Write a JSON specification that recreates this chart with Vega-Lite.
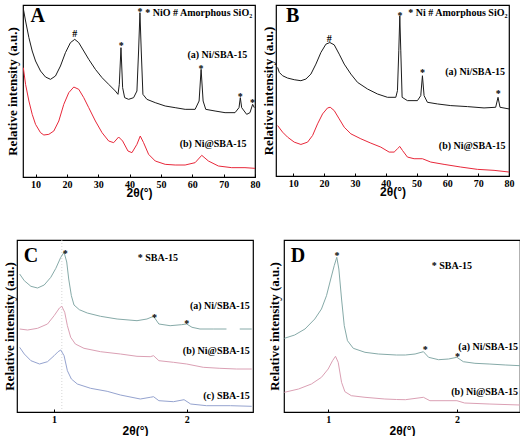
{
  "$schema": "https://vega.github.io/schema/vega-lite/v6.json",
  "padding": {"left": 2, "top": 4, "right": 0, "bottom": 0},
  "config": {
    "view": {"stroke": "#000", "strokeWidth": 1.2},
    "axis": {"domain": false, "grid": false, "tickColor": "#000", "labelFont": "Liberation Serif", "labelFontWeight": "bold", "labelFontSize": 10, "labelColor": "#000", "titleFont": "Liberation Sans", "titleFontWeight": "bold", "titleFontSize": 12, "titleColor": "#000", "labelFlush": false},
    "axisY": {"labels": false, "ticks": false, "titleFont": "Liberation Serif", "titleFontSize": 13},
    "axisX": {"tickSize": -3, "labelPadding": 5, "titlePadding": 0}
  },
  "resolve": {"scale": {"color": "independent"}},
  "spacing": 40,
  "datasets": {
    "A": [
      {"t":6.1,"i":505,"s":"a"},{"t":6.82,"i":468,"s":"a"},{"t":7.88,"i":418,"s":"a"},{"t":8.94,"i":378,"s":"a"},{"t":10,"i":348,"s":"a"},{"t":11.59,"i":318,"s":"a"},{"t":13.18,"i":300,"s":"a"},{"t":14.77,"i":293,"s":"a"},{"t":16.36,"i":303,"s":"a"},{"t":17.95,"i":333,"s":"a"},{"t":19.54,"i":373,"s":"a"},{"t":21.13,"i":403,"s":"a"},{"t":22.51,"i":413,"s":"a"},{"t":23.79,"i":403,"s":"a"},{"t":25.38,"i":378,"s":"a"},{"t":26.97,"i":353,"s":"a"},{"t":29.09,"i":323,"s":"a"},{"t":31.21,"i":298,"s":"a"},{"t":33.33,"i":278,"s":"a"},{"t":35.45,"i":258,"s":"a"},{"t":36.3,"i":248,"s":"a"},{"t":36.72,"i":278,"s":"a"},{"t":37.25,"i":388,"s":"a"},{"t":37.78,"i":268,"s":"a"},{"t":38.42,"i":238,"s":"a"},{"t":39.69,"i":233,"s":"a"},{"t":41.28,"i":238,"s":"a"},{"t":42.34,"i":258,"s":"a"},{"t":42.87,"i":378,"s":"a"},{"t":43.3,"i":493,"s":"a"},{"t":43.72,"i":378,"s":"a"},{"t":44.25,"i":248,"s":"a"},{"t":45.52,"i":233,"s":"a"},{"t":48.18,"i":223,"s":"a"},{"t":51.36,"i":213,"s":"a"},{"t":54.54,"i":208,"s":"a"},{"t":57.72,"i":203,"s":"a"},{"t":60.9,"i":203,"s":"a"},{"t":62.17,"i":228,"s":"a"},{"t":62.81,"i":323,"s":"a"},{"t":63.45,"i":228,"s":"a"},{"t":64.29,"i":203,"s":"a"},{"t":67.26,"i":198,"s":"a"},{"t":70.45,"i":193,"s":"a"},{"t":73.63,"i":193,"s":"a"},{"t":74.9,"i":208,"s":"a"},{"t":75.32,"i":238,"s":"a"},{"t":75.75,"i":208,"s":"a"},{"t":77.34,"i":188,"s":"a"},{"t":78.4,"i":193,"s":"a"},{"t":79.25,"i":218,"s":"a"},{"t":79.78,"i":208,"s":"a"},
      {"t":6.1,"i":328,"s":"b"},{"t":6.82,"i":278,"s":"b"},{"t":7.88,"i":228,"s":"b"},{"t":8.94,"i":188,"s":"b"},{"t":10,"i":158,"s":"b"},{"t":11.59,"i":133,"s":"b"},{"t":12.65,"i":126,"s":"b"},{"t":14.24,"i":128,"s":"b"},{"t":15.83,"i":138,"s":"b"},{"t":17.42,"i":168,"s":"b"},{"t":19.01,"i":218,"s":"b"},{"t":20.6,"i":253,"s":"b"},{"t":22.2,"i":270,"s":"b"},{"t":23.79,"i":263,"s":"b"},{"t":25.38,"i":238,"s":"b"},{"t":26.97,"i":208,"s":"b"},{"t":29.09,"i":168,"s":"b"},{"t":31.21,"i":133,"s":"b"},{"t":33.33,"i":108,"s":"b"},{"t":34.92,"i":103,"s":"b"},{"t":36.51,"i":120,"s":"b"},{"t":37.78,"i":108,"s":"b"},{"t":39.48,"i":78,"s":"b"},{"t":40.75,"i":73,"s":"b"},{"t":42.34,"i":98,"s":"b"},{"t":43.4,"i":123,"s":"b"},{"t":44.46,"i":103,"s":"b"},{"t":46.06,"i":68,"s":"b"},{"t":48.18,"i":48,"s":"b"},{"t":51.36,"i":38,"s":"b"},{"t":54.54,"i":36,"s":"b"},{"t":57.72,"i":36,"s":"b"},{"t":60.9,"i":43,"s":"b"},{"t":63.02,"i":65,"s":"b"},{"t":65.14,"i":48,"s":"b"},{"t":68.32,"i":33,"s":"b"},{"t":72.57,"i":28,"s":"b"},{"t":76.81,"i":28,"s":"b"},{"t":80,"i":26,"s":"b"}
    ],
    "B": [
      {"t":4.92,"i":327,"s":"a"},{"t":5.46,"i":312,"s":"a"},{"t":6.54,"i":302,"s":"a"},{"t":8.16,"i":295,"s":"a"},{"t":10.32,"i":290,"s":"a"},{"t":12.48,"i":287,"s":"a"},{"t":14.1,"i":292,"s":"a"},{"t":15.73,"i":307,"s":"a"},{"t":17.35,"i":337,"s":"a"},{"t":18.97,"i":372,"s":"a"},{"t":20.59,"i":397,"s":"a"},{"t":21.88,"i":402,"s":"a"},{"t":23.29,"i":395,"s":"a"},{"t":24.91,"i":367,"s":"a"},{"t":26.53,"i":337,"s":"a"},{"t":28.69,"i":307,"s":"a"},{"t":30.85,"i":282,"s":"a"},{"t":34.09,"i":262,"s":"a"},{"t":37.33,"i":247,"s":"a"},{"t":40.57,"i":237,"s":"a"},{"t":43.27,"i":237,"s":"a"},{"t":43.81,"i":257,"s":"a"},{"t":44.24,"i":377,"s":"a"},{"t":44.57,"i":482,"s":"a"},{"t":44.89,"i":377,"s":"a"},{"t":45.32,"i":237,"s":"a"},{"t":47.05,"i":227,"s":"a"},{"t":50.29,"i":227,"s":"a"},{"t":51.37,"i":242,"s":"a"},{"t":51.91,"i":302,"s":"a"},{"t":52.45,"i":242,"s":"a"},{"t":53.53,"i":222,"s":"a"},{"t":56.78,"i":217,"s":"a"},{"t":61.1,"i":212,"s":"a"},{"t":66.5,"i":209,"s":"a"},{"t":71.9,"i":205,"s":"a"},{"t":75.68,"i":207,"s":"a"},{"t":76.44,"i":237,"s":"a"},{"t":77.08,"i":207,"s":"a"},{"t":80,"i":202,"s":"a"},
      {"t":4.92,"i":152,"s":"b"},{"t":6.54,"i":132,"s":"b"},{"t":8.16,"i":117,"s":"b"},{"t":10.32,"i":102,"s":"b"},{"t":12.48,"i":95,"s":"b"},{"t":14.65,"i":102,"s":"b"},{"t":16.27,"i":122,"s":"b"},{"t":17.89,"i":157,"s":"b"},{"t":19.51,"i":187,"s":"b"},{"t":21.13,"i":205,"s":"b"},{"t":21.99,"i":207,"s":"b"},{"t":23.29,"i":197,"s":"b"},{"t":24.91,"i":172,"s":"b"},{"t":26.53,"i":147,"s":"b"},{"t":28.69,"i":127,"s":"b"},{"t":31.93,"i":112,"s":"b"},{"t":35.17,"i":99,"s":"b"},{"t":38.41,"i":87,"s":"b"},{"t":41.11,"i":72,"s":"b"},{"t":42.73,"i":72,"s":"b"},{"t":43.81,"i":82,"s":"b"},{"t":44.57,"i":89,"s":"b"},{"t":45.43,"i":77,"s":"b"},{"t":47.05,"i":57,"s":"b"},{"t":49.21,"i":52,"s":"b"},{"t":51.91,"i":52,"s":"b"},{"t":54.61,"i":42,"s":"b"},{"t":58.94,"i":35,"s":"b"},{"t":64.34,"i":27,"s":"b"},{"t":69.74,"i":20,"s":"b"},{"t":75.14,"i":17,"s":"b"},{"t":80,"i":12,"s":"b"}
    ],
    "C": [
      {"t":0.74,"i":138,"s":"a","g":1},{"t":0.775,"i":131.3,"s":"a","g":1},{"t":0.825,"i":125.7,"s":"a","g":1},{"t":0.875,"i":124,"s":"a","g":1},{"t":0.925,"i":127,"s":"a","g":1},{"t":0.975,"i":134.7,"s":"a","g":1},{"t":1.013,"i":143.7,"s":"a","g":1},{"t":1.05,"i":154.7,"s":"a","g":1},{"t":1.075,"i":159.7,"s":"a","g":1},{"t":1.095,"i":150,"s":"a","g":1},{"t":1.11,"i":133,"s":"a","g":1},{"t":1.13,"i":116.3,"s":"a","g":1},{"t":1.15,"i":107,"s":"a","g":1},{"t":1.19,"i":102.3,"s":"a","g":1},{"t":1.25,"i":99,"s":"a","g":1},{"t":1.35,"i":95.7,"s":"a","g":1},{"t":1.475,"i":93,"s":"a","g":1},{"t":1.625,"i":91.3,"s":"a","g":1},{"t":1.7,"i":93,"s":"a","g":1},{"t":1.75,"i":95.7,"s":"a","g":1},{"t":1.79,"i":88,"s":"a","g":1},{"t":1.875,"i":86.3,"s":"a","g":1},{"t":1.96,"i":87.3,"s":"a","g":1},{"t":2.0,"i":88,"s":"a","g":1},{"t":2.04,"i":84.7,"s":"a","g":1},{"t":2.1,"i":83,"s":"a","g":1},{"t":2.2,"i":83,"s":"a","g":1},{"t":2.3,"i":83,"s":"a","g":1},
      {"t":2.4,"i":83,"s":"a","g":2},{"t":2.49,"i":83,"s":"a","g":2},
      {"t":0.74,"i":83,"s":"b","g":1},{"t":0.8,"i":82,"s":"b","g":1},{"t":0.875,"i":83.7,"s":"b","g":1},{"t":0.95,"i":88,"s":"b","g":1},{"t":1.0,"i":96.3,"s":"b","g":1},{"t":1.04,"i":104,"s":"b","g":1},{"t":1.058,"i":105.7,"s":"b","g":1},{"t":1.08,"i":99.7,"s":"b","g":1},{"t":1.1,"i":86.3,"s":"b","g":1},{"t":1.125,"i":74.7,"s":"b","g":1},{"t":1.16,"i":68,"s":"b","g":1},{"t":1.225,"i":63.7,"s":"b","g":1},{"t":1.35,"i":60.3,"s":"b","g":1},{"t":1.5,"i":58,"s":"b","g":1},{"t":1.625,"i":55.7,"s":"b","g":1},{"t":1.725,"i":55.3,"s":"b","g":1},{"t":1.75,"i":56.3,"s":"b","g":1},{"t":1.79,"i":51.3,"s":"b","g":1},{"t":1.9,"i":49.7,"s":"b","g":1},{"t":2.0,"i":48,"s":"b","g":1},{"t":2.125,"i":44.7,"s":"b","g":1},{"t":2.25,"i":43.7,"s":"b","g":1},{"t":2.375,"i":43,"s":"b","g":1},{"t":2.49,"i":43,"s":"b","g":1},
      {"t":0.74,"i":64.7,"s":"c","g":1},{"t":0.775,"i":58,"s":"c","g":1},{"t":0.825,"i":51.3,"s":"c","g":1},{"t":0.89,"i":48,"s":"c","g":1},{"t":0.95,"i":50.3,"s":"c","g":1},{"t":1.0,"i":56.3,"s":"c","g":1},{"t":1.03,"i":60.3,"s":"c","g":1},{"t":1.05,"i":62,"s":"c","g":1},{"t":1.075,"i":56.3,"s":"c","g":1},{"t":1.1,"i":41.3,"s":"c","g":1},{"t":1.13,"i":33,"s":"c","g":1},{"t":1.175,"i":28,"s":"c","g":1},{"t":1.275,"i":23.7,"s":"c","g":1},{"t":1.4,"i":20.7,"s":"c","g":1},{"t":1.5,"i":17,"s":"c","g":1},{"t":1.65,"i":13,"s":"c","g":1},{"t":1.725,"i":14.7,"s":"c","g":1},{"t":1.75,"i":15.3,"s":"c","g":1},{"t":1.79,"i":11.3,"s":"c","g":1},{"t":1.9,"i":10.3,"s":"c","g":1},{"t":1.98,"i":12.3,"s":"c","g":1},{"t":2.03,"i":8,"s":"c","g":1},{"t":2.15,"i":6.3,"s":"c","g":1},{"t":2.33,"i":6.3,"s":"c","g":1},{"t":2.49,"i":5.7,"s":"c","g":1}
    ],
    "D": [
      {"t":0.66,"i":73.7,"s":"a"},{"t":0.74,"i":77,"s":"a"},{"t":0.82,"i":83,"s":"a"},{"t":0.896,"i":93,"s":"a"},{"t":0.948,"i":103,"s":"a"},{"t":0.987,"i":116.3,"s":"a"},{"t":1.02,"i":133,"s":"a"},{"t":1.047,"i":146.3,"s":"a"},{"t":1.067,"i":154.7,"s":"a"},{"t":1.083,"i":143,"s":"a"},{"t":1.104,"i":113,"s":"a"},{"t":1.125,"i":86.3,"s":"a"},{"t":1.15,"i":71.3,"s":"a"},{"t":1.195,"i":63.7,"s":"a"},{"t":1.286,"i":59.7,"s":"a"},{"t":1.39,"i":58,"s":"a"},{"t":1.53,"i":57,"s":"a"},{"t":1.6,"i":57,"s":"a"},{"t":1.675,"i":58,"s":"a"},{"t":1.74,"i":60.3,"s":"a"},{"t":1.78,"i":54.7,"s":"a"},{"t":1.857,"i":52.3,"s":"a"},{"t":1.935,"i":53,"s":"a"},{"t":2.0,"i":54.7,"s":"a"},{"t":2.05,"i":50.3,"s":"a"},{"t":2.14,"i":48.7,"s":"a"},{"t":2.25,"i":48,"s":"a"},{"t":2.38,"i":47,"s":"a"},{"t":2.49,"i":46.3,"s":"a"},
      {"t":0.66,"i":19.7,"s":"b"},{"t":0.77,"i":23,"s":"b"},{"t":0.87,"i":28,"s":"b"},{"t":0.948,"i":34.7,"s":"b"},{"t":1.0,"i":43,"s":"b"},{"t":1.034,"i":51.3,"s":"b"},{"t":1.057,"i":55.7,"s":"b"},{"t":1.078,"i":49.7,"s":"b"},{"t":1.104,"i":29.7,"s":"b"},{"t":1.13,"i":20.3,"s":"b"},{"t":1.18,"i":16.3,"s":"b"},{"t":1.286,"i":14.7,"s":"b"},{"t":1.44,"i":13,"s":"b"},{"t":1.53,"i":12.5,"s":"b"},{"t":1.6,"i":12.3,"s":"b"},{"t":1.74,"i":14.7,"s":"b"},{"t":1.79,"i":11.3,"s":"b"},{"t":2.0,"i":11.3,"s":"b"},{"t":2.06,"i":9,"s":"b"},{"t":2.25,"i":8,"s":"b"},{"t":2.49,"i":7,"s":"b"}
    ],
    "guideC": [{"t":1.058,"i":0,"i2":172}],
    "notes": [
      {"p":"A","k":"let","t":10.7,"i":483,"txt":"A"},
      {"p":"A","k":"lab","t":79.1,"i":493,"txt":"* NiO # Amorphous SiO₂"},
      {"p":"A","k":"lab","t":77.5,"i":365,"txt":"(a) Ni/SBA-15"},
      {"p":"A","k":"lab","t":77.3,"i":98,"txt":"(b) Ni@SBA-15"},
      {"p":"A","k":"mk","t":22.5,"i":438,"txt":"#"},
      {"p":"A","k":"mk","t":37.3,"i":403,"txt":"*"},
      {"p":"A","k":"mk","t":43.3,"i":503,"txt":"*"},
      {"p":"A","k":"mk","t":62.8,"i":333,"txt":"*"},
      {"p":"A","k":"mk","t":75.3,"i":248,"txt":"*"},
      {"p":"A","k":"mk","t":79.2,"i":230,"txt":"*"},
      {"p":"B","k":"let","t":9.8,"i":482,"txt":"B"},
      {"p":"B","k":"lab","t":79.5,"i":492,"txt":"* Ni  # Amorphous SiO₂"},
      {"p":"B","k":"lab","t":78.7,"i":314,"txt":"(a) Ni/SBA-15"},
      {"p":"B","k":"lab","t":78.9,"i":91,"txt":"(b) Ni@SBA-15"},
      {"p":"B","k":"mk","t":21.7,"i":422,"txt":"#"},
      {"p":"B","k":"mk","t":44.6,"i":492,"txt":"*"},
      {"p":"B","k":"mk","t":51.9,"i":319,"txt":"*"},
      {"p":"B","k":"mk","t":76.5,"i":257,"txt":"*"},
      {"p":"C","k":"let","t":0.825,"i":156,"txt":"C"},
      {"p":"C","k":"lab","t":1.935,"i":154,"txt":"* SBA-15"},
      {"p":"C","k":"lab","t":2.475,"i":106,"txt":"(a) Ni/SBA-15"},
      {"p":"C","k":"lab","t":2.475,"i":61,"txt":"(b) Ni@SBA-15"},
      {"p":"C","k":"lab","t":2.475,"i":16,"txt":"(c) SBA-15"},
      {"p":"C","k":"mk","t":1.083,"i":161,"txt":"*"},
      {"p":"C","k":"mk","t":1.758,"i":97,"txt":"*"},
      {"p":"C","k":"mk","t":2.0,"i":91.3,"txt":"*"},
      {"p":"D","k":"let","t":0.766,"i":156,"txt":"D"},
      {"p":"D","k":"lab","t":2.117,"i":146,"txt":"* SBA-15"},
      {"p":"D","k":"lab","t":2.475,"i":65,"txt":"(a) Ni/SBA-15"},
      {"p":"D","k":"lab","t":2.475,"i":19.7,"txt":"(b) Ni@SBA-15"},
      {"p":"D","k":"mk","t":1.068,"i":159,"txt":"*"},
      {"p":"D","k":"mk","t":1.754,"i":64.7,"txt":"*"},
      {"p":"D","k":"mk","t":2.005,"i":58,"txt":"*"}
    ]
  },
  "vconcat": [
    {
      "spacing": 2,
      "resolve": {"scale": {"color": "independent"}},
      "hconcat": [
        {
          "width": 3, "height": 172,
          "view": {"stroke": null},
          "data": {"name": "A"},
          "mark": {"type": "point", "opacity": 0, "size": 0, "strokeWidth": 0},
          "encoding": {
            "y": {"field": "i", "type": "quantitative", "scale": {"domain": [0, 516], "nice": false, "zero": false}, "axis": {"title": "Relative intensity (a.u.)", "titlePadding": -2}}
          }
        },
        {
          "spacing": 0,
          "resolve": {"scale": {"color": "independent"}},
          "hconcat": [
            {
              "width": 232, "height": 172,
              "encoding": {
                "x": {"field": "t", "type": "quantitative", "scale": {"domain": [6, 80], "nice": false, "zero": false}, "axis": {"values": [10, 20, 30, 40, 50, 60, 70, 80], "title": "2θ(°)", "titlePadding": -2}},
                "y": {"field": "i", "type": "quantitative", "scale": {"domain": [0, 516], "nice": false, "zero": false}, "axis": {"title": null}}
              },
              "layer": [
                {"data": {"name": "A"}, "mark": {"type": "line", "strokeWidth": 1, "clip": true},
                 "encoding": {"color": {"field": "s", "type": "nominal", "scale": {"domain": ["a", "b"], "range": ["#1c1c1c", "#e8283a"]}, "legend": null}}},
                {"data": {"name": "notes"}, "transform": [{"filter": "datum.p == 'A' && datum.k == 'lab'"}],
                 "mark": {"type": "text", "font": "Liberation Serif", "fontWeight": "bold", "fontSize": 10, "align": "right", "baseline": "middle", "color": "#000"},
                 "encoding": {"text": {"field": "txt"}}},
                {"data": {"name": "notes"}, "transform": [{"filter": "datum.p == 'A' && datum.k == 'mk'"}],
                 "mark": {"type": "text", "font": "Liberation Serif", "fontWeight": "bold", "fontSize": 10, "align": "center", "baseline": "middle", "dy": 3, "color": "#000"},
                 "encoding": {"text": {"field": "txt"}}},
                {"data": {"name": "notes"}, "transform": [{"filter": "datum.p == 'A' && datum.k == 'let'"}],
                 "mark": {"type": "text", "font": "Liberation Serif", "fontWeight": "bold", "fontSize": 20, "align": "center", "baseline": "middle", "color": "#000"},
                 "encoding": {"text": {"field": "txt"}}}
              ]
            },
            {
              "width": 233, "height": 171,
              "encoding": {
                "x": {"field": "t", "type": "quantitative", "scale": {"domain": [4.4, 80], "nice": false, "zero": false}, "axis": {"values": [10, 20, 30, 40, 50, 60, 70, 80], "title": "2θ(°)", "titlePadding": -2}},
                "y": {"field": "i", "type": "quantitative", "scale": {"domain": [0, 515], "nice": false, "zero": false}, "axis": {"title": "Relative intensity (a.u.)", "titlePadding": 1}}
              },
              "layer": [
                {"data": {"name": "B"}, "mark": {"type": "line", "strokeWidth": 1, "clip": true},
                 "encoding": {"color": {"field": "s", "type": "nominal", "scale": {"domain": ["a", "b"], "range": ["#1c1c1c", "#e8283a"]}, "legend": null}}},
                {"data": {"name": "notes"}, "transform": [{"filter": "datum.p == 'B' && datum.k == 'lab'"}],
                 "mark": {"type": "text", "font": "Liberation Serif", "fontWeight": "bold", "fontSize": 10, "align": "right", "baseline": "middle", "color": "#000"},
                 "encoding": {"text": {"field": "txt"}}},
                {"data": {"name": "notes"}, "transform": [{"filter": "datum.p == 'B' && datum.k == 'mk'"}],
                 "mark": {"type": "text", "font": "Liberation Serif", "fontWeight": "bold", "fontSize": 10, "align": "center", "baseline": "middle", "dy": 3, "color": "#000"},
                 "encoding": {"text": {"field": "txt"}}},
                {"data": {"name": "notes"}, "transform": [{"filter": "datum.p == 'B' && datum.k == 'let'"}],
                 "mark": {"type": "text", "font": "Liberation Serif", "fontWeight": "bold", "fontSize": 20, "align": "center", "baseline": "middle", "color": "#000"},
                 "encoding": {"text": {"field": "txt"}}}
              ]
            }
          ]
        }
      ]
    },
    {
      "spacing": 13,
      "resolve": {"scale": {"color": "independent"}},
      "hconcat": [
        {
          "width": 236, "height": 172,
          "encoding": {
            "x": {"field": "t", "type": "quantitative", "scale": {"domain": [0.72, 2.5], "nice": false, "zero": false}, "axis": {"values": [1, 1.5, 2], "format": "d", "labelExpr": "datum.value == 1.5 ? '' : datum.label", "title": "2θ(°)", "titlePadding": 1}},
            "y": {"field": "i", "type": "quantitative", "scale": {"domain": [0, 172], "nice": false, "zero": false}, "axis": {"title": "Relative intensity (a.u.)", "titlePadding": 1}}
          },
          "layer": [
            {"data": {"name": "guideC"}, "mark": {"type": "rule", "color": "#cccccc", "strokeWidth": 0.8, "strokeDash": [1, 2]},
             "encoding": {"y2": {"field": "i2"}}},
            {"data": {"name": "C"}, "mark": {"type": "line", "strokeWidth": 1, "clip": true},
             "encoding": {"color": {"field": "s", "type": "nominal", "scale": {"domain": ["a", "b", "c"], "range": ["#86aaa8", "#dba0b4", "#95a3cf"]}, "legend": null}, "detail": {"field": "g", "type": "nominal"}}},
            {"data": {"name": "notes"}, "transform": [{"filter": "datum.p == 'C' && datum.k == 'lab'"}],
             "mark": {"type": "text", "font": "Liberation Serif", "fontWeight": "bold", "fontSize": 10, "align": "right", "baseline": "middle", "color": "#000"},
             "encoding": {"text": {"field": "txt"}}},
            {"data": {"name": "notes"}, "transform": [{"filter": "datum.p == 'C' && datum.k == 'mk'"}],
             "mark": {"type": "text", "font": "Liberation Serif", "fontWeight": "bold", "fontSize": 10, "align": "center", "baseline": "middle", "dy": 3, "color": "#000"},
             "encoding": {"text": {"field": "txt"}}},
            {"data": {"name": "notes"}, "transform": [{"filter": "datum.p == 'C' && datum.k == 'let'"}],
             "mark": {"type": "text", "font": "Liberation Serif", "fontWeight": "bold", "fontSize": 20, "align": "center", "baseline": "middle", "color": "#000"},
             "encoding": {"text": {"field": "txt"}}}
          ]
        },
        {
          "width": 236, "height": 172,
          "encoding": {
            "x": {"field": "t", "type": "quantitative", "scale": {"domain": [0.657, 2.49], "nice": false, "zero": false}, "axis": {"values": [1, 1.5, 2], "format": "d", "labelExpr": "datum.value == 1.5 ? '' : datum.label", "title": "2θ(°)", "titlePadding": 1}},
            "y": {"field": "i", "type": "quantitative", "scale": {"domain": [0, 172], "nice": false, "zero": false}, "axis": {"title": "Relative intensity (a.u.)", "titlePadding": 3}}
          },
          "layer": [
            {"data": {"name": "D"}, "mark": {"type": "line", "strokeWidth": 1, "clip": true},
             "encoding": {"color": {"field": "s", "type": "nominal", "scale": {"domain": ["a", "b"], "range": ["#86aaa8", "#dba0b4"]}, "legend": null}}},
            {"data": {"name": "notes"}, "transform": [{"filter": "datum.p == 'D' && datum.k == 'lab'"}],
             "mark": {"type": "text", "font": "Liberation Serif", "fontWeight": "bold", "fontSize": 10, "align": "right", "baseline": "middle", "color": "#000"},
             "encoding": {"text": {"field": "txt"}}},
            {"data": {"name": "notes"}, "transform": [{"filter": "datum.p == 'D' && datum.k == 'mk'"}],
             "mark": {"type": "text", "font": "Liberation Serif", "fontWeight": "bold", "fontSize": 10, "align": "center", "baseline": "middle", "dy": 3, "color": "#000"},
             "encoding": {"text": {"field": "txt"}}},
            {"data": {"name": "notes"}, "transform": [{"filter": "datum.p == 'D' && datum.k == 'let'"}],
             "mark": {"type": "text", "font": "Liberation Serif", "fontWeight": "bold", "fontSize": 20, "align": "center", "baseline": "middle", "color": "#000"},
             "encoding": {"text": {"field": "txt"}}}
          ]
        }
      ]
    }
  ]
}
